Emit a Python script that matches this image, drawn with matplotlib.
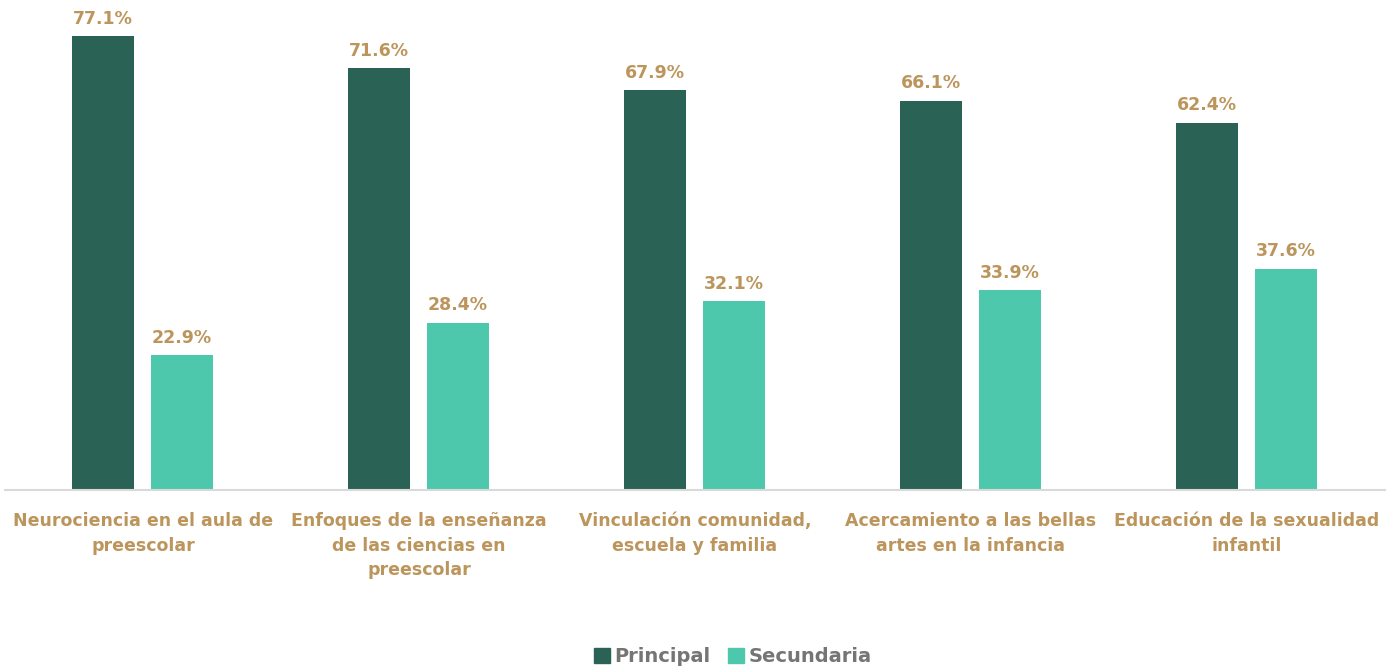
import matplotlib
matplotlib.use("Agg")
import matplotlib.pyplot as plt
import numpy as np
from matplotlib.patches import Patch

categories = [
    "Neurociencia en el aula de\npreescolar",
    "Enfoques de la enseñanza\nde las ciencias en\npreescolar",
    "Vinculación comunidad,\nescuela y familia",
    "Acercamiento a las bellas\nartes en la infancia",
    "Educación de la sexualidad\ninfantil",
]
principal = [77.1, 71.6, 67.9, 66.1, 62.4]
secundaria = [22.9, 28.4, 32.1, 33.9, 37.6]
series_names = ["Principal", "Secundaria"]

c_dark = "#2A6356"
c_light = "#4EC8AC"
c_gold = "#BC955C"
c_grey = "#757575"

plt.rcParams['font.family'] = ['DejaVu Sans']

fig = plt.figure(figsize=(13.97, 6.71), dpi=100)
ax = fig.add_axes([5/1397, 181/671, 1380/1397, 490/671])

x = np.arange(len(categories))
w = 0.2246
off = 0.143
b1 = ax.bar(x - off - 0.002, principal, w, color=c_dark)
b2 = ax.bar(x + off - 0.002, secundaria, w, color=c_light)

for bars, vals in ((b1, principal), (b2, secundaria)):
    for r, v in zip(bars, vals):
        ax.annotate(f"{v:.1f}%", (r.get_x() + r.get_width()/2, v),
                    xytext=(0, 6), textcoords="offset points",
                    ha="center", va="bottom", color=c_gold,
                    fontsize=12.5, fontweight="bold")

ax.set_xlim(-0.5, len(categories) - 0.5)
ax.set_ylim(0, 83.2)
ax.set_yticks([])
ax.set_xticks(x)
ax.set_xticklabels(categories, fontsize=12.5, fontweight="bold", color=c_gold,
                   linespacing=1.45)
ax.tick_params(axis="x", length=0, pad=16)
for s in ("top", "right", "left"):
    ax.spines[s].set_visible(False)
ax.spines["bottom"].set_color("#D9D9D9")
ax.spines["bottom"].set_linewidth(1.5)

handles = [Patch(color=c_dark), Patch(color=c_light)]
fig.legend(handles, series_names, loc="center", bbox_to_anchor=(733/1397, 1 - 657/671),
           ncol=2, frameon=False, handlelength=0.8, handleheight=0.8,
           handletextpad=0.25, columnspacing=0.9,
           prop={"size": 14, "weight": "bold"}, labelcolor=c_grey)

fig.savefig("out.png", dpi=100)
